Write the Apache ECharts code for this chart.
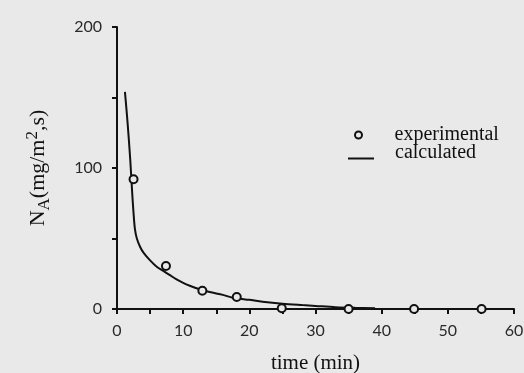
<!DOCTYPE html>
<html>
<head>
<meta charset="utf-8">
<script src="https://cdn.jsdelivr.net/npm/echarts@6/dist/echarts.min.js"></script>
<style>
  html, body { margin: 0; padding: 0; background: #e9e9e9; }
  #chart { width: 524px; height: 373px; }
</style>
</head>
<body>
<div id="chart"></div>
<script>
// Measured flux (time in min, N_A in mg/m^2,s)
const expTime = [2.5, 7.4, 12.9, 18.1, 24.9, 35, 44.9, 55.1];
const expFlux = [92, 30.5, 13, 8.5, 0.5, 0, 0, 0];

// Model curve
const calcTime = [1.2, 1.6, 2.0, 2.3, 2.5, 2.7, 3.0, 3.5, 4, 5, 6, 7, 8, 9, 10, 11, 12.5, 14, 16, 17.5, 20, 22, 25, 28, 30, 33, 36, 39];
const calcFlux = [154, 132, 106, 82, 68, 57, 50, 44, 40, 34.5, 30, 27, 24, 21, 18.5, 16.5, 14, 12, 10, 8, 6.5, 5.2, 3.8, 2.8, 2.2, 1.3, 0.8, 0.5];

const xTicksLabelled = [0, 10, 20, 30, 40, 50, 60];
const yTicksLabelled = [0, 100, 200];

const pair = (xs, ys) => xs.map((x, i) => [x, ys[i]]);

const chart = echarts.init(document.getElementById('chart'), null, { renderer: 'canvas' });

const bg = '#e9e9e9';
const ink = '#111';
const tickFont = { fontFamily: 'Lato, "Open Sans", sans-serif', fontSize: 16, color: '#2a2a2a' };
const serif = '"Liberation Serif", "DejaVu Serif", serif';

chart.setOption({
  backgroundColor: bg,
  animation: false,
  grid: { left: 117, right: 10, top: 27, bottom: 64, containLabel: false, outerBoundsMode: 'none' },
  legend: [
    {
      left: 349, top: 120, itemWidth: 26, itemHeight: 7,
      textStyle: { fontFamily: serif, fontSize: 20, color: ink, padding: [0, 0, 0, 18] },
      data: ['experimental']
    },
    {
      left: 343, top: 138, itemWidth: 26, itemHeight: 2,
      formatter: '{t|{name}}',
      textStyle: {
        fontFamily: serif, fontSize: 20, color: ink,
        rich: { t: { fontFamily: serif, fontSize: 20, color: ink, padding: [0, 0, 11, 16] } }
      },
      data: [{ name: 'calculated', icon: 'rect' }]
    }
  ],
  xAxis: {
    type: 'value', min: 0, max: 60, interval: 5,
    name: 'time (min)', nameLocation: 'middle', nameGap: 44,
    nameTextStyle: { fontFamily: serif, fontSize: 21, color: ink },
    axisLine: { lineStyle: { color: ink, width: 2 } },
    axisTick: { show: true, inside: false, length: 5, lineStyle: { color: ink, width: 2 } },
    splitLine: { show: false },
    axisLabel: Object.assign({ margin: 14, formatter: v => xTicksLabelled.includes(v) ? String(v) : '' }, tickFont)
  },
  yAxis: {
    type: 'value', min: 0, max: 200, interval: 50,
    name: '{n|N}{sub|A}{n|(mg/m}{sup|2}{n|,s)}',
    nameLocation: 'middle', nameRotate: 90, nameGap: 64,
    nameTextStyle: {
      fontFamily: serif, fontSize: 22, color: ink,
      rich: {
        n: { fontFamily: serif, fontSize: 22, color: ink },
        sub: { fontFamily: serif, fontSize: 17, color: ink, padding: [12, 0, 0, 0] },
        sup: { fontFamily: serif, fontSize: 17, color: ink, padding: [0, 0, 12, 0] }
      }
    },
    axisLine: { show: true, lineStyle: { color: ink, width: 2 } },
    axisTick: { show: true, inside: false, length: 5, lineStyle: { color: ink, width: 2 } },
    splitLine: { show: false },
    axisLabel: Object.assign({ margin: 15, formatter: v => yTicksLabelled.includes(v) ? String(v) : '' }, tickFont)
  },
  series: [
    {
      name: 'calculated', type: 'line', data: pair(calcTime, calcFlux),
      symbol: 'none', smooth: 0.3,
      lineStyle: { color: ink, width: 2 },
      itemStyle: { color: ink }, z: 2
    },
    {
      name: 'experimental', type: 'scatter', data: pair(expTime, expFlux),
      symbol: 'circle', symbolSize: 8,
      itemStyle: { color: bg, borderColor: ink, borderWidth: 2, opacity: 1 }, z: 3
    }
  ]
});
</script>
</body>
</html>
